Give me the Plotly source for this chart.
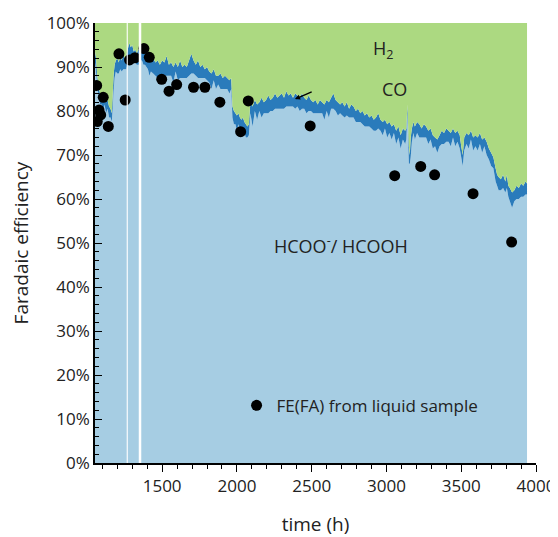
import plotly.graph_objects as go

# ---------------- data ----------------
time_h = [
    1051, 1058, 1066, 1075, 1085, 1095, 1105, 1115, 1125, 1135, 1145, 1155, 1163, 1170,
    1175, 1182, 1190, 1200, 1210, 1220, 1230, 1240, 1250, 1260,
    1270, 1280, 1290, 1300, 1310, 1320, 1330, 1340, 1350,
    1355, 1365, 1375, 1385, 1395, 1405, 1415, 1425, 1440, 1455, 1470, 1485, 1500, 1515,
    1530, 1545, 1560, 1575, 1590, 1605, 1620, 1635, 1650, 1665, 1680, 1695,
    1710, 1725, 1740, 1755, 1770, 1785, 1800, 1815, 1830, 1845, 1860, 1875, 1890, 1905,
    1920, 1935, 1950, 1962,
    1970, 1980, 1990, 2000, 2010, 2020, 2030, 2040, 2050, 2060, 2070, 2080,
    2090, 2105, 2120, 2135, 2150, 2165, 2180, 2195, 2210, 2225, 2240, 2255, 2270, 2285,
    2300, 2315, 2330, 2345, 2360, 2375, 2390, 2405, 2420, 2435, 2450, 2465, 2480, 2495,
    2510, 2525, 2540, 2555, 2570, 2585, 2600, 2615, 2630, 2645, 2660, 2675, 2690, 2705,
    2720, 2735, 2750, 2765, 2780, 2795, 2810, 2825, 2840, 2855, 2870, 2885, 2900, 2915,
    2930, 2945, 2960, 2975, 2990, 3005, 3020, 3035, 3050, 3065, 3080, 3095, 3110, 3125,
    3133, 3140, 3145, 3150, 3156, 3162, 3170, 3180,
    3190, 3205, 3220, 3235, 3250, 3265, 3280, 3295, 3310, 3325, 3340, 3355, 3370, 3385,
    3400, 3415, 3430, 3445, 3460, 3475, 3490, 3500, 3510, 3520, 3535, 3550, 3565, 3580,
    3595, 3610, 3625, 3640, 3655, 3670, 3685, 3700, 3715, 3730, 3740, 3750, 3765, 3780,
    3795, 3805, 3815, 3825, 3840, 3855, 3870, 3885, 3900, 3915, 3930, 3940,
]

# total FE of HCOO- + CO (%), i.e. upper edge of the dark-blue band
fe_total = [
    93.5, 92.0, 88.0, 85.5, 84.0, 83.5, 82.5, 83.5, 82.0, 82.5, 81.0, 80.5, 79.5, 84.0,
    88.0, 90.5, 91.5, 92.0, 91.0, 92.5, 91.5, 93.0, 92.0, 92.5,
    94.0, 95.5, 94.5, 95.0, 93.5, 94.0, 93.0, 94.0, 93.5,
    95.0, 94.5, 94.0, 93.0, 93.5, 92.5, 92.0, 91.5, 92.0, 91.0, 91.5, 90.5, 91.5, 91.0,
    92.5, 90.5, 91.0, 90.0, 91.0, 90.0, 91.5, 90.0, 90.5, 90.0, 91.5, 93.0,
    91.5, 90.5, 91.5, 90.0, 90.5, 89.5, 90.0, 89.0, 88.5, 89.5, 88.0, 88.0, 88.5, 87.5,
    88.0, 87.5, 87.0, 87.5,
    81.0, 80.0, 79.5, 79.0, 79.5, 78.5, 78.0, 78.5, 77.5, 77.0, 76.5, 77.0,
    82.0, 81.0, 82.5, 81.5, 82.0, 83.0, 82.0, 82.5, 83.5, 82.5, 83.0, 84.0, 83.0, 83.5,
    84.0, 83.0, 84.5, 83.5, 84.0, 83.0, 84.0, 83.5, 83.0, 84.0, 83.0, 82.5, 83.5, 82.5,
    82.0, 82.5, 81.5, 82.5, 82.0, 81.5, 82.5, 82.0, 83.0, 84.0, 82.5, 82.0, 81.5, 82.0,
    81.0, 82.0, 80.5, 81.5, 81.0, 80.0, 80.5, 79.5, 80.0, 79.0, 79.5, 78.5, 79.0, 78.0,
    78.5, 79.5, 78.0, 77.5, 78.0, 77.0, 77.5, 76.5, 77.0, 75.5, 76.5, 74.5, 76.0, 75.5,
    76.0, 81.5, 76.5, 72.0, 70.0, 74.0, 76.0, 77.5,
    76.5, 77.5, 77.0, 76.0, 77.0, 76.5, 75.5, 76.0, 74.5, 74.0, 73.5, 74.5, 75.5, 75.0,
    76.0, 75.5, 75.0, 76.0, 75.0, 75.5, 74.5, 72.0, 70.0, 74.0, 75.0, 74.5, 75.5, 74.0,
    74.5, 74.0, 75.0, 73.5, 74.0, 73.0, 71.5, 70.5, 69.5, 67.0, 65.5, 65.0, 64.5, 65.5,
    64.0, 65.5, 63.0, 62.5, 61.5, 62.0, 63.0, 62.5, 63.5, 63.0, 64.0, 63.5,
]

# FE of CO (%), thickness of the dark-blue band
fe_co = [
    2.5, 3.0, 2.5, 2.0, 2.5, 2.0, 2.5, 2.0, 2.5, 2.0, 2.5, 2.0, 2.0, 3.0,
    3.5, 3.0, 2.5, 3.5, 2.5, 3.0, 2.5, 3.5, 2.5, 3.0,
    3.0, 3.5, 2.5, 3.5, 2.5, 3.0, 2.5, 3.5, 3.0,
    3.5, 3.0, 3.5, 2.5, 3.5, 3.0, 4.0, 2.5, 3.5, 3.0, 4.0, 2.5, 3.5, 3.0,
    4.5, 2.5, 3.0, 3.5, 2.0, 3.0, 4.0, 2.5, 3.0, 2.5, 3.5, 4.5,
    3.0, 2.5, 4.0, 2.5, 3.0, 2.0, 3.0, 2.5, 3.5, 2.5, 3.0, 2.0, 3.5, 2.5,
    3.0, 2.5, 3.0, 2.5,
    2.5, 3.0, 2.5, 3.5, 2.5, 3.0, 2.5, 3.0, 2.5, 3.0, 2.5, 2.5,
    2.5, 4.5, 2.5, 3.5, 2.0, 4.5, 2.5, 3.0, 4.0, 2.5, 3.0, 3.5, 2.5, 3.0,
    3.5, 2.5, 3.5, 2.5, 3.0, 2.0, 3.5, 2.5, 3.0, 3.5, 2.5, 3.0, 3.5, 2.5,
    2.5, 3.0, 2.0, 3.0, 2.5, 3.5, 2.5, 3.5, 2.5, 3.5, 2.5, 3.0, 2.0, 3.0,
    2.5, 3.0, 2.0, 3.0, 2.5, 2.5, 3.0, 2.0, 3.0, 2.5, 3.0, 2.0, 3.0, 2.5,
    3.0, 3.5, 2.5, 3.0, 2.0, 3.0, 2.5, 3.0, 2.0, 3.0, 2.5, 3.0, 2.5, 3.0,
    2.5, 2.0, 3.0, 4.0, 2.0, 4.5, 3.0, 2.5,
    3.0, 2.5, 3.0, 2.0, 3.0, 2.5, 3.0, 2.5, 3.0, 2.0, 3.0, 2.5, 3.0, 2.5,
    3.0, 2.5, 3.0, 2.0, 3.0, 2.5, 3.0, 2.5, 2.5, 3.0, 2.5, 3.0, 2.0, 3.0,
    2.5, 3.0, 2.5, 3.0, 2.0, 3.0, 2.5, 3.0, 2.5, 3.0, 2.5, 3.0, 2.5, 3.0,
    2.5, 3.0, 2.5, 3.0, 3.5, 2.5, 3.0, 2.5, 3.0, 2.5, 3.0, 2.5,
]

# FE(FA) from liquid samples
sample_time_h = [1062, 1066, 1078, 1089, 1106, 1140, 1211, 1253, 1282, 1318, 1378, 1414,
                 1497, 1546, 1597, 1710, 1786, 1886, 2025, 2076, 2490, 3055, 3229, 3322,
                 3579, 3837]
sample_fe = [85.8, 77.6, 80.2, 79.1, 83.1, 76.5, 93.0, 82.5, 91.6, 92.1, 94.2, 92.2,
             87.2, 84.5, 86.0, 85.4, 85.4, 82.0, 75.3, 82.3, 76.6, 65.3, 67.4, 65.5,
             61.2, 50.2]

# interruptions of the record (white vertical lines)
gap_times_h = [1267, 1352]

x_ticks = [1500, 2000, 2500, 3000, 3500, 4000]
y_ticks = [0, 10, 20, 30, 40, 50, 60, 70, 80, 90, 100]
y_tick_labels = [f"{v}%" for v in y_ticks]

# derived stack
fe_hcoo = [t - c for t, c in zip(fe_total, fe_co)]
fe_h2 = [100 - t for t in fe_total]

# ---------------- figure ----------------
FONT = "Open Sans"
TXT = "#222222"
C_HCOO = "#a6cde3"
C_CO = "#2a7bbb"
C_H2 = "#acd981"

fig = go.Figure()
fig.add_trace(go.Scatter(x=time_h, y=fe_hcoo, stackgroup="fe", mode="none",
                         fillcolor=C_HCOO, name="HCOO-", showlegend=False,
                         hoverinfo="skip"))
fig.add_trace(go.Scatter(x=time_h, y=fe_co, stackgroup="fe", mode="none",
                         fillcolor=C_CO, name="CO", showlegend=False,
                         hoverinfo="skip"))
fig.add_trace(go.Scatter(x=time_h, y=fe_h2, stackgroup="fe", mode="none",
                         fillcolor=C_H2, name="H2", showlegend=False,
                         hoverinfo="skip"))
fig.add_trace(go.Scatter(x=sample_time_h, y=sample_fe, mode="markers",
                         marker=dict(color="black", size=11),
                         name="FE(FA) from liquid sample", showlegend=True))

for i, g in enumerate(gap_times_h):
    fig.add_shape(type="line", xref="x", yref="y", x0=g, x1=g, y0=0, y1=100,
                  line=dict(color="rgba(255,255,255,0.85)" if i == 0 else "white",
                            width=1.3 if i == 0 else 2.5),
                  layer="above")

axis_common = dict(showline=True, linecolor="black", linewidth=1.5,
                   showgrid=False, zeroline=False, automargin=False)

# the page body has an 8px margin, so the figure is drawn 8px in from the corner
fig.update_layout(
    width=550, height=529,
    margin=dict(l=87, r=22, t=15, b=74, autoexpand=False),
    paper_bgcolor="white", plot_bgcolor="white",
    font=dict(family=FONT, size=17, color=TXT),
    xaxis=dict(range=[1051, 4000], tickvals=x_ticks, ticks="outside", ticklen=7,
               tickwidth=1.2, tickcolor="black",
               minor=dict(dtick=100, tick0=0, ticks="outside", ticklen=4,
                          tickcolor="black", tickwidth=1),
               title=dict(text="time (h)", font=dict(size=19), standoff=23),
               **axis_common),
    yaxis=dict(range=[0, 100], tickvals=y_ticks, ticktext=y_tick_labels,
               ticks="inside", ticklen=7, tickwidth=1.2, tickcolor="black",
               minor=dict(dtick=2, tick0=0, ticks="inside", ticklen=4,
                          tickcolor="black", tickwidth=1),
               title=dict(text="Faradaic efficiency", font=dict(size=19), standoff=14),
               **axis_common),
    xaxis2=dict(range=[1051, 4000], overlaying="x", side="top", anchor="y",
                tickvals=x_ticks, showticklabels=False, ticks="inside", ticklen=7,
                tickwidth=1.2, tickcolor="black",
                minor=dict(dtick=100, tick0=0, ticks="inside", ticklen=4,
                           tickcolor="black", tickwidth=1),
                **axis_common),
    yaxis2=dict(range=[0, 100], overlaying="y", side="right", anchor="x",
                tickvals=y_ticks, showticklabels=False, ticks="inside", ticklen=7,
                tickwidth=1.2, tickcolor="black",
                minor=dict(dtick=2, tick0=0, ticks="inside", ticklen=4,
                           tickcolor="black", tickwidth=1),
                **axis_common),
    legend=dict(x=0.321, y=0.13, xanchor="left", yanchor="middle",
                bgcolor="rgba(0,0,0,0)", font=dict(size=17, color=TXT)),
    annotations=[
        dict(x=2976, y=94.0, xref="x", yref="y", text="H<sub>2</sub>",
             showarrow=False, font=dict(size=18, color=TXT)),
        dict(x=3056, y=85.0, xref="x", yref="y", text="CO",
             showarrow=False, font=dict(size=18, color=TXT)),
        dict(x=2695, y=49.5, xref="x", yref="y", text="HCOO<sup>-</sup>/ HCOOH",
             showarrow=False, font=dict(size=18, color=TXT)),
        dict(x=2388, y=82.7, xref="x", yref="y", ax=2510, ay=84.5,
             axref="x", ayref="y", text="", showarrow=True, arrowhead=2,
             arrowsize=0.8, arrowwidth=1.3, arrowcolor="black"),
    ],
)

fig.write_html("out.html")
